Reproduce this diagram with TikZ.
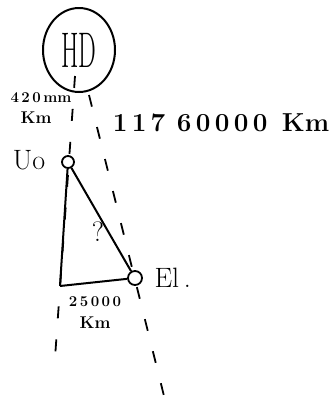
\documentclass[tikz,border=0pt]{standalone}
\usetikzlibrary{shapes.geometric}
\begin{document}
\begin{tikzpicture}[x=1pt, y=-1pt,
  guide/.style={line width=1.8pt, dash pattern=on 12pt off 21pt},
  side/.style={line width=2pt},
  spot/.style={shape=circle, draw=black, line width=1.8pt, inner sep=0pt},
  big/.style={font=\fontsize{28}{28}\selectfont},
  small/.style={font=\bfseries\fontsize{15}{15}\selectfont}]
\useasboundingbox (0,0) rectangle (331,405);
\node[shape=ellipse, draw=black, line width=2pt, minimum width=72pt, minimum height=84pt, inner sep=0pt] (HD) at (79,50) {\fontsize{50}{50}\selectfont\scalebox{0.5}[1]{HD}};
\coordinate (L1) at (75,76);
\coordinate (L2) at (55,358);
\coordinate (R1) at (89,95);
\coordinate (R2) at (165,400);
\coordinate (C) at (60,286);
\node[spot, minimum size=12pt] (Uo) at (68,162) {};
\node[spot, minimum size=14pt] (El) at (135,278) {};
\path [guide, draw=black] (L1) edge (L2);
\path [guide, draw=black] (R1) edge (R2);
\path [side, draw=black] (Uo) edge (C);
\path [side, draw=black] (C) edge (El);
\path [side, draw=black] (Uo) edge (El);
\node[big] (UoL) at (29,160) {Uo};
\node[big, anchor=west] (ElL) at (151,278) {El\,.};
\node[big] (Q) at (98,232) {?};
\node[small] (D1) at (41,98) {4\,2\,0\,mm};
\node[small, font=\bfseries\fontsize{17}{17}\selectfont] (K1) at (36,118) {Km};
\node[small, font=\bfseries\fontsize{26}{26}\selectfont] (D2) at (221,123) {1\,1\,7\;\,6\,0\,0\,0\,0\;\;Km};
\node[small] (D3) at (95,302) {2\,5\,0\,0\,0};
\node[small, font=\bfseries\fontsize{17}{17}\selectfont] (K3) at (95,323) {Km};
\end{tikzpicture}
\end{document}
